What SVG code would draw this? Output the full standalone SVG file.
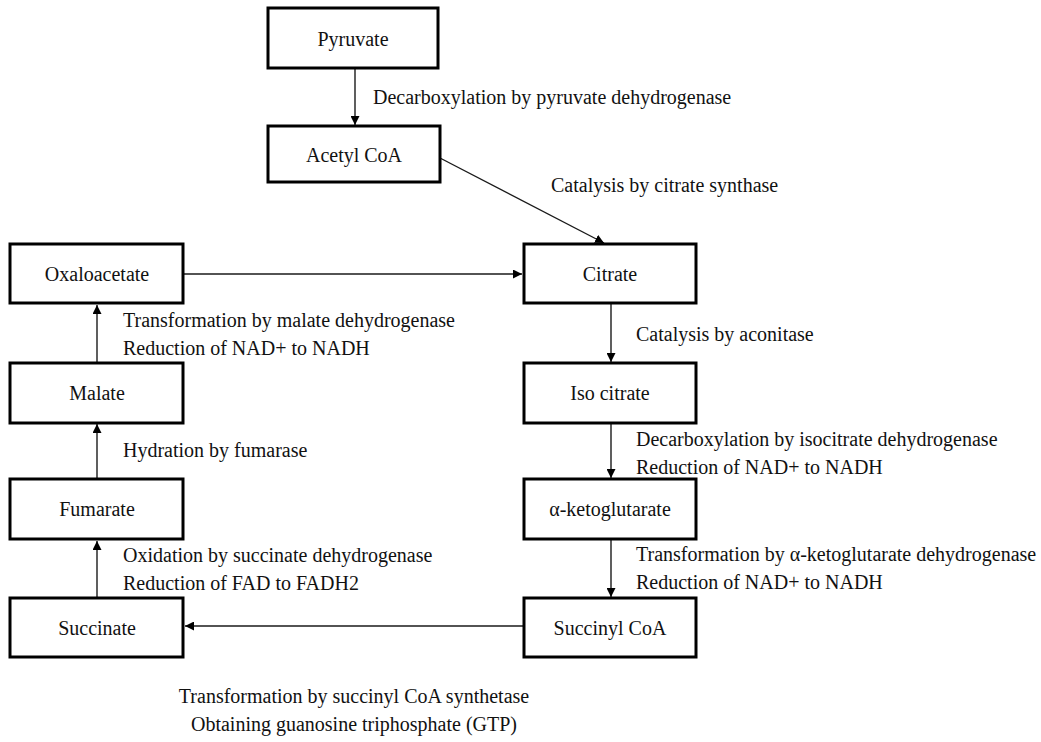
<svg xmlns="http://www.w3.org/2000/svg" width="1041" height="742" viewBox="0 0 1041 742">
<style>
  .box { fill: #ffffff; stroke: #000000; stroke-width: 3; }
  .lbl { font-family: 'Liberation Serif', 'Times New Roman', Times, serif; font-size: 20px; fill: #111111; }
  .mid { text-anchor: middle; }
  .edge { stroke: #1a1a1a; stroke-width: 1.4; fill: none; marker-end: url(#ah); }
</style>
<defs>
  <marker id="ah" viewBox="0 0 10 10" refX="10" refY="5" markerWidth="9" markerHeight="9" markerUnits="userSpaceOnUse" orient="auto">
    <path d="M0,0 L10,5 L0,10 z" fill="#000000"/>
  </marker>
</defs>
<rect width="1041" height="742" fill="#ffffff"/>

<g id="connectors">
  <line class="edge" x1="355" y1="68" x2="355" y2="125"/>
  <line class="edge" x1="440" y1="158" x2="604" y2="243"/>
  <line class="edge" x1="184" y1="274" x2="522" y2="274"/>
  <line class="edge" x1="611" y1="304" x2="611" y2="362"/>
  <line class="edge" x1="611" y1="424" x2="611" y2="478"/>
  <line class="edge" x1="611" y1="540" x2="611" y2="597"/>
  <line class="edge" x1="523" y1="626" x2="185" y2="626"/>
  <line class="edge" x1="97" y1="597" x2="97" y2="541"/>
  <line class="edge" x1="97" y1="478" x2="97" y2="424"/>
  <line class="edge" x1="97" y1="362" x2="97" y2="305"/>
</g>

<g font-family="'Liberation Serif', 'Times New Roman', Times, serif">
<g id="pyruvate"><rect class="box" x="268" y="8" width="170" height="60"/><text class="lbl mid" x="353" y="46">Pyruvate</text></g>
<g id="acetylcoa"><rect class="box" x="268" y="126" width="172" height="56"/><text class="lbl mid" x="354" y="162">Acetyl CoA</text></g>
<g id="oxaloacetate"><rect class="box" x="10" y="244" width="173" height="59"/><text class="lbl mid" x="97" y="281">Oxaloacetate</text></g>
<g id="citrate"><rect class="box" x="524" y="244" width="172" height="59"/><text class="lbl mid" x="610" y="281">Citrate</text></g>
<g id="malate"><rect class="box" x="10" y="363" width="173" height="60"/><text class="lbl mid" x="97" y="400">Malate</text></g>
<g id="isocitrate"><rect class="box" x="524" y="363" width="172" height="60"/><text class="lbl mid" x="610" y="400">Iso citrate</text></g>
<g id="fumarate"><rect class="box" x="10" y="479" width="173" height="60"/><text class="lbl mid" x="97" y="516">Fumarate</text></g>
<g id="ketoglutarate"><rect class="box" x="524" y="479" width="172" height="60"/><text class="lbl mid" x="610" y="516">α-ketoglutarate</text></g>
<g id="succinate"><rect class="box" x="10" y="598" width="173" height="59"/><text class="lbl mid" x="97" y="635">Succinate</text></g>
<g id="succinylcoa"><rect class="box" x="524" y="598" width="172" height="59"/><text class="lbl mid" x="610" y="635">Succinyl CoA</text></g>

<g id="labels">
  <text class="lbl" x="373" y="104">Decarboxylation by pyruvate dehydrogenase</text>
  <text class="lbl" x="551" y="192">Catalysis by citrate synthase</text>
  <text class="lbl" x="123" y="327">Transformation by malate dehydrogenase</text>
  <text class="lbl" x="123" y="355">Reduction of NAD+ to NADH</text>
  <text class="lbl" x="636" y="341">Catalysis by aconitase</text>
  <text class="lbl" x="123" y="457">Hydration by fumarase</text>
  <text class="lbl" x="636" y="446">Decarboxylation by isocitrate dehydrogenase</text>
  <text class="lbl" x="636" y="474">Reduction of NAD+ to NADH</text>
  <text class="lbl" x="123" y="562">Oxidation by succinate dehydrogenase</text>
  <text class="lbl" x="123" y="590">Reduction of FAD to FADH2</text>
  <text class="lbl" x="636" y="561">Transformation by α-ketoglutarate dehydrogenase</text>
  <text class="lbl" x="636" y="589">Reduction of NAD+ to NADH</text>
  <text class="lbl mid" x="354" y="703">Transformation by succinyl CoA synthetase</text>
  <text class="lbl mid" x="354" y="731">Obtaining guanosine triphosphate (GTP)</text>
</g>
</g>
</svg>
